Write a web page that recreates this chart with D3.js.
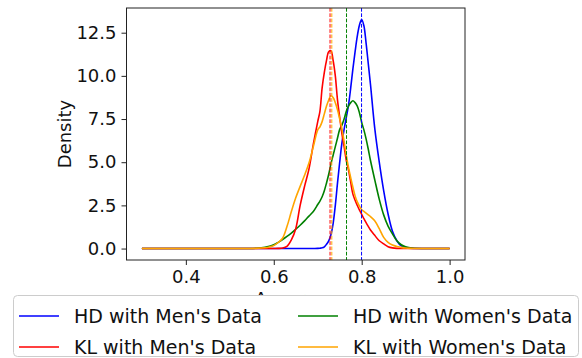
<!DOCTYPE html>
<html><head><meta charset="utf-8">
<script src="https://cdn.jsdelivr.net/npm/d3@7/dist/d3.min.js"></script>
<style>body{margin:0;background:#fff}svg{display:block}</style>
</head><body><svg id="c" width="582" height="358"></svg>
<script>
const accuracy = [0.30,0.40,0.50,0.54,0.56,0.58,0.59,0.60,0.61,0.62,0.63,0.64,0.65,0.66,0.67,0.68,0.69,0.70,
  0.705,0.71,0.715,0.72,0.725,0.73,0.735,0.74,0.745,0.75,0.755,0.76,0.765,0.77,0.775,0.78,0.785,0.79,0.795,0.80,0.805,0.81,0.815,0.82,
  0.83,0.84,0.85,0.86,0.87,0.88,0.89,0.90,0.91,0.92,0.94,0.96,1.00];
const hdMen = [0,0,0,0,0,0,0,0,0,0,0,0,0,0,0,0,0.005,0.01,
  0.02,0.04,0.1,0.25,0.45,0.8,1.45,2.5,3.8,5.0,6.1,6.9,7.6,8.3,9.3,10.4,11.4,12.3,12.95,13.26,12.9,11.9,10.7,9.5,
  6.9,5.0,3.35,2.0,1.0,0.45,0.15,0.05,0.015,0.005,0,0,0];
const hdWomen = [0,0,0,0.005,0.02,0.07,0.13,0.22,0.36,0.52,0.7,0.9,1.12,1.35,1.6,1.88,2.15,2.55,
  2.75,3.0,3.35,3.8,4.3,4.9,5.4,5.9,6.4,6.9,7.15,7.5,7.95,8.25,8.45,8.56,8.45,8.25,7.85,7.3,6.87,6.35,5.75,5.1,
  3.95,2.85,1.95,1.3,0.85,0.45,0.22,0.1,0.04,0.015,0.003,0,0];
const klMen = [0,0,0,0,0,0,0,0.005,0.01,0.03,0.13,0.5,1.15,2.5,3.6,4.6,6.05,7.35,
  7.95,9.3,10.2,10.9,11.4,11.45,10.9,10.0,8.6,7.6,6.65,5.9,5.1,4.55,3.85,3.15,2.8,2.5,2.22,1.98,1.73,1.5,1.28,1.07,
  0.75,0.45,0.27,0.11,0.04,0.01,0,0,0,0,0,0,0];
const klWomen = [0,0,0,0.005,0.01,0.045,0.09,0.17,0.35,0.6,1.27,2.14,2.94,3.6,4.24,4.95,5.9,6.87,
  7.05,7.35,7.8,8.25,8.6,8.85,8.75,8.45,8.03,7.5,6.95,6.2,5.4,4.7,4.1,3.55,3.05,2.7,2.45,2.25,2.15,2.05,1.95,1.85,
  1.6,1.15,0.65,0.36,0.2,0.12,0.07,0.03,0.01,0.005,0,0,0];
const seriesNames = ["HD with Men's Data","HD with Women's Data","KL with Men's Data","KL with Women's Data"];
const seriesColors = ["blue","green","red","orange"];
const seriesValues = [hdMen, hdWomen, klMen, klWomen];
const seriesMeans = [0.7997, 0.7655, 0.728, 0.732];
const xTicks = [0.4,0.6,0.8,1.0];
const yTicks = [0,2.5,5,7.5,10,12.5];
const xLabel = "Accuracy", yLabel = "Density";

const svg = d3.select("#c");
const L = 126.5, R = 465, T = 8, B = 260;
const x = d3.scaleLinear().domain([0.265,1.035]).range([L,R]);
const y = d3.scaleLinear().domain([-0.663,13.93]).range([B,T]);
const font = "DejaVu Sans, sans-serif";

svg.append("clipPath").attr("id","pc").append("rect")
  .attr("x",L).attr("y",T).attr("width",R-L).attr("height",B-T);
const g = svg.append("g").attr("clip-path","url(#pc)");

const line = d3.line().x(d=>x(d[0])).y(d=>y(d[1])).curve(d3.curveCatmullRom.alpha(0.5));
seriesValues.forEach((vals,i)=>{
  g.append("path").datum(accuracy.map((a,j)=>[a,vals[j]]))
   .attr("d",line).attr("fill","none").attr("stroke",seriesColors[i]).attr("stroke-width",1.6)
   .attr("stroke-linejoin","round");
});
seriesMeans.forEach((m,i)=>{
  g.append("line").attr("x1",x(m)).attr("x2",x(m)).attr("y1",T).attr("y2",B)
   .attr("stroke",seriesColors[i]).attr("stroke-width",1).attr("stroke-dasharray","3.7,1.6");
});

svg.append("rect").attr("x",L).attr("y",T).attr("width",R-L).attr("height",B-T)
  .attr("fill","none").attr("stroke","#222").attr("stroke-width",1);

const xa = svg.append("g").attr("transform",`translate(0,${B})`)
  .call(d3.axisBottom(x).tickValues(xTicks).tickFormat(d3.format(".1f")).tickSize(5).tickPadding(5));
const ya = svg.append("g").attr("transform",`translate(${L},0)`)
  .call(d3.axisLeft(y).tickValues(yTicks).tickFormat(d3.format(".1f")).tickSize(5).tickPadding(5));
[xa,ya].forEach(a=>{
  a.select(".domain").remove();
  a.selectAll("line").attr("stroke","#222");
  a.selectAll("text").attr("font-family",font).attr("font-size",18).attr("fill","#111");
});

svg.append("text").attr("x",(L+R)/2).attr("y",305).attr("text-anchor","middle")
  .attr("font-family",font).attr("font-size",18).attr("fill","#111").text(xLabel);
svg.append("text").attr("transform",`translate(71,${(T+B)/2}) rotate(-90)`).attr("text-anchor","middle")
  .attr("font-family",font).attr("font-size",18).attr("fill","#111").text(yLabel);

// legend
const lg = svg.append("g");
lg.append("rect").attr("x",13.5).attr("y",295.5).attr("width",565).attr("height",61).attr("rx",4)
  .attr("fill","white").attr("stroke","#ccc");
const order = [0,2,1,3];
order.forEach((si,k)=>{
  const col = Math.floor(k/2), row = k%2;
  const hx = col===0 ? 19 : 298, tx = col===0 ? 74 : 353;
  const cy = row===0 ? 316 : 347;
  lg.append("line").attr("x1",hx).attr("x2",hx+40).attr("y1",cy).attr("y2",cy)
    .attr("stroke",seriesColors[si]).attr("stroke-width",1.6);
  lg.append("text").attr("x",tx).attr("y",cy).attr("dy","0.35em")
    .attr("font-family",font).attr("font-size",19).attr("fill","#111").text(seriesNames[si]);
});
</script></body></html>
